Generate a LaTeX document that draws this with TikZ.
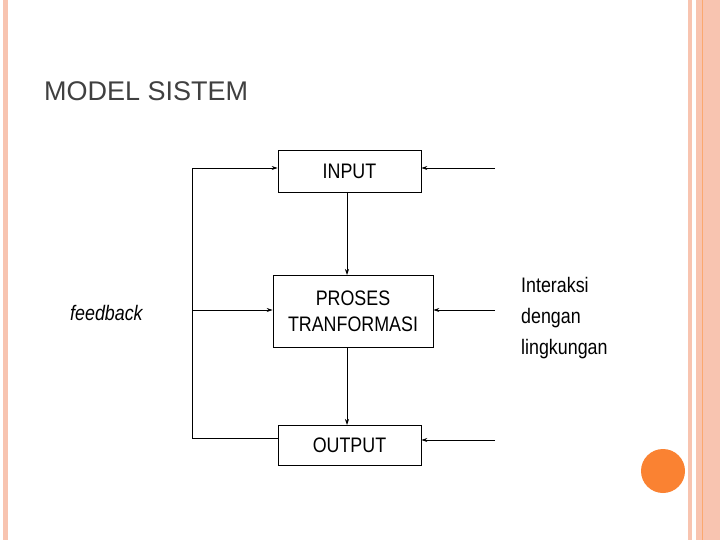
\documentclass[tikz,border=0pt]{standalone}
\usepackage{fontspec}
\setmainfont{Liberation Sans}
\newfontfamily\narrow[FakeStretch=0.85]{Liberation Sans}
\usetikzlibrary{arrows.meta}
\definecolor{peach}{RGB}{248,196,176}
\definecolor{orng}{RGB}{250,130,50}
\begin{document}
\begin{tikzpicture}[x=1pt,y=-1pt,
  box/.style={draw,line width=0.8pt,inner sep=0pt,font=\narrow\fontsize{21}{26}\selectfont,align=center},
  arr/.style={-{Stealth[length=6pt,width=4pt]},line width=0.7pt},
  ln/.style={line width=0.7pt}]
\useasboundingbox (0,0) rectangle (720,540);
\fill[white] (0,0) rectangle (720,540);
\fill[peach] (3,0) rectangle (8,540);
\fill[peach] (688,0) rectangle (692,540);
\fill[peach] (696,0) rectangle (720,540);
\draw[orng!70,line width=0.6pt] (702,0) -- (702,540);
\fill[orng] (663,471) circle (22);
\node[anchor=west,inner sep=0pt,text=black!75,font=\fontsize{27}{30}\selectfont] (title) at (44,91) {MODEL SISTEM};
\node[box,minimum width=143,minimum height=42] (in) at (349.5,171) {INPUT};
\node[box,minimum width=160,minimum height=72] (pr) at (353,311) {PROSES\\TRANFORMASI};
\node[box,minimum width=143,minimum height=40] (out) at (349.5,445) {OUTPUT};
\node[anchor=west,inner sep=0pt,font=\narrow\itshape\fontsize{21}{24}\selectfont] (fb) at (70,313) {feedback};
\node[anchor=north west,inner sep=0pt,align=left,font=\narrow\fontsize{21}{31}\selectfont] (env) at (521,277) {Interaksi\\dengan\\lingkungan};
\draw[arr] (347,192) -- (347,275);
\draw[arr] (347,347) -- (347,425);
\coordinate (b) at (192,438);
\coordinate (t) at (192,168);
\coordinate (m) at (192,310);
\draw[ln] (out.west |- b) -- (b) -- (t);
\draw[arr] (t) -- (in.west |- t);
\draw[arr] (m) -- (pr.west |- m);
\coordinate (r1) at (495,168);
\coordinate (r2) at (495,310);
\coordinate (r3) at (495,440);
\draw[arr] (r1) -- (in.east |- r1);
\draw[arr] (r2) -- (pr.east |- r2);
\draw[arr] (r3) -- (out.east |- r3);
\end{tikzpicture}
\end{document}
